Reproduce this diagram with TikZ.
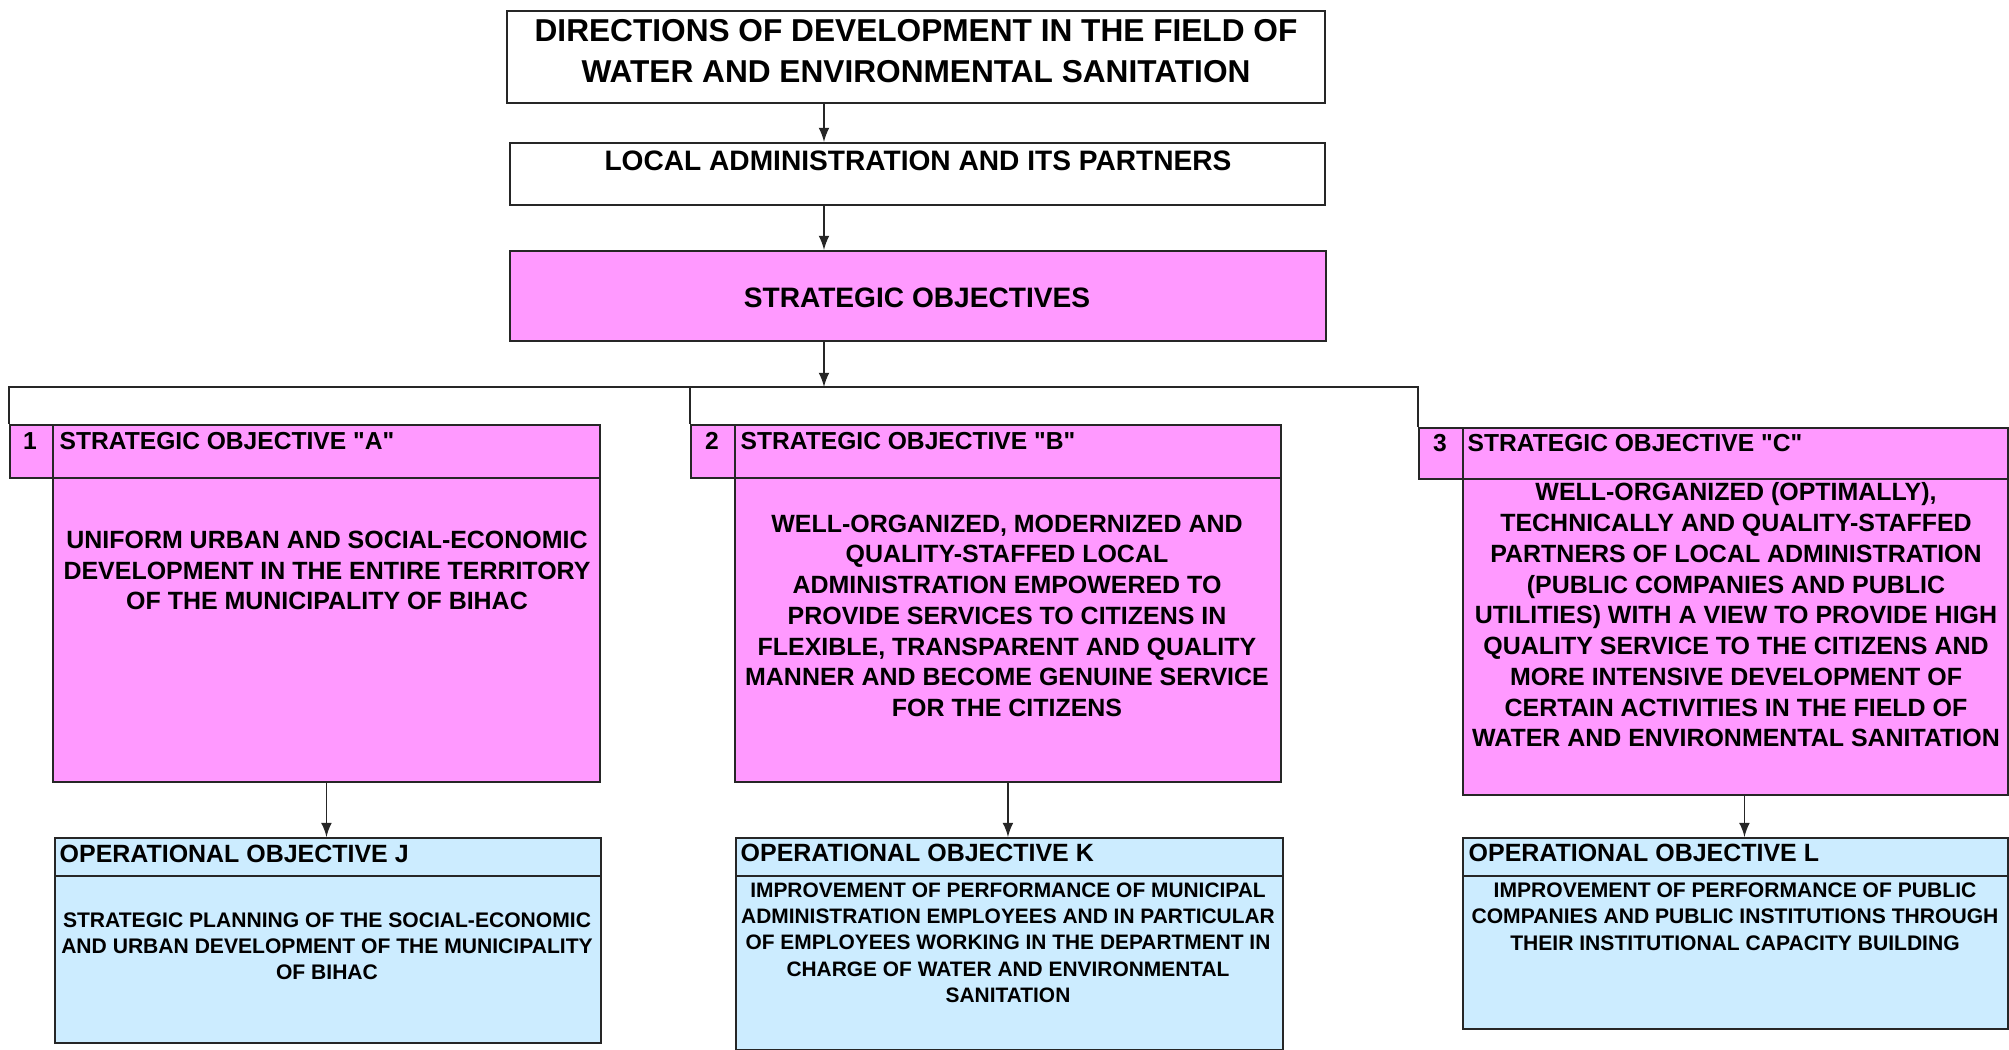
\documentclass[tikz,border=0pt]{standalone}
\usepackage{fontspec}
\setmainfont{Liberation Sans}
\usetikzlibrary{calc}
\definecolor{sopink}{HTML}{FF99FF}
\definecolor{opblue}{HTML}{CCECFF}
\begin{document}
\begin{tikzpicture}[x=0.1mm,y=-0.1mm,>=latex,
    box/.style={draw=black!85, line width=0.55pt, inner sep=0pt, anchor=north west},
    sobox/.style={box, fill=sopink},
    opbox/.style={box, fill=opblue},
    txt/.style={inner sep=0pt, anchor=north, align=center, font=\bfseries},
    htxt/.style={inner sep=0pt, anchor=north west, font=\fontsize{7}{8}\selectfont\bfseries},
    link/.style={line width=0.4pt, draw=black!85}]
    \useasboundingbox (0,0) rectangle (2009,1050);
    % top of the chart
    \node[box, minimum width=81.8mm, minimum height=9.2mm] (title) at (506,10) {};
    \node[txt, font=\fontsize{9}{11.7}\selectfont\bfseries] (titletxt) at (916,19) {DIRECTIONS OF DEVELOPMENT IN THE FIELD OF\\WATER AND ENVIRONMENTAL SANITATION};
    \node[box, minimum width=81.5mm, minimum height=6.2mm] (local) at (509,142) {};
    \node[txt, font=\fontsize{8}{9}\selectfont\bfseries] (localtxt) at (918,150) {LOCAL ADMINISTRATION AND ITS PARTNERS};
    \node[sobox, minimum width=81.6mm, minimum height=9mm] (strat) at (509,250) {};
    \node[txt, font=\fontsize{8}{9}\selectfont\bfseries] (strattxt) at (917,287) {STRATEGIC OBJECTIVES};
    \coordinate (bus) at (824,387);
    \draw[link, ->] (title.south -| bus) -- (local.north -| bus);
    \draw[link, ->] (local.south -| bus) -- (strat.north -| bus);
    \draw[link, ->] (strat.south -| bus) -- (bus);
    % strategic objectives
    \node[sobox, minimum width=4.3mm, minimum height=5.3mm] (numA) at (9,424) {};
    \node[sobox, minimum width=54.7mm, minimum height=5.3mm] (headA) at (52,424) {};
    \node[sobox, minimum width=54.7mm, minimum height=30.4mm] (bodyA) at (52,477) {};
    \node[sobox, minimum width=4.4mm, minimum height=5.3mm] (numB) at (690,424) {};
    \node[sobox, minimum width=54.6mm, minimum height=5.3mm] (headB) at (734,424) {};
    \node[sobox, minimum width=54.6mm, minimum height=30.4mm] (bodyB) at (734,477) {};
    \node[sobox, minimum width=4.4mm, minimum height=5.1mm] (numC) at (1418,427) {};
    \node[sobox, minimum width=54.5mm, minimum height=5.1mm] (headC) at (1462,427) {};
    \node[sobox, minimum width=54.5mm, minimum height=31.6mm] (bodyC) at (1462,478) {};
    \draw[link] (numA.north west) -- (numA.north west |- bus) -- (numC.north west |- bus) -- (numC.north west);
    \draw[link] (numB.north west |- bus) -- (numB.north west);
    \node[htxt, anchor=north] at (30,432) {1};
    \node[htxt] at (59,432) {STRATEGIC OBJECTIVE \textquotedbl A\textquotedbl};
    \node[htxt, anchor=north] at (712,432) {2};
    \node[htxt] at (740,432) {STRATEGIC OBJECTIVE \textquotedbl B\textquotedbl};
    \node[htxt, anchor=north] at (1440,434) {3};
    \node[htxt] at (1467,434) {STRATEGIC OBJECTIVE \textquotedbl C\textquotedbl};
    \node[txt, font=\fontsize{7.1}{8.8}\selectfont\bfseries] at (327,530) {UNIFORM URBAN AND SOCIAL-ECONOMIC\\DEVELOPMENT IN THE ENTIRE TERRITORY\\OF THE MUNICIPALITY OF BIHAC};
    \node[txt, font=\fontsize{7.1}{8.75}\selectfont\bfseries] at (1007,514) {WELL-ORGANIZED, MODERNIZED AND\\QUALITY-STAFFED LOCAL\\ADMINISTRATION EMPOWERED TO\\PROVIDE SERVICES TO CITIZENS IN\\FLEXIBLE, TRANSPARENT AND QUALITY\\MANNER AND BECOME GENUINE SERVICE\\FOR THE CITIZENS};
    \node[txt, font=\fontsize{7.1}{8.75}\selectfont\bfseries] at (1736,482) {WELL-ORGANIZED (OPTIMALLY),\\TECHNICALLY AND QUALITY-STAFFED\\PARTNERS OF LOCAL ADMINISTRATION\\(PUBLIC COMPANIES AND PUBLIC\\UTILITIES) WITH A VIEW TO PROVIDE HIGH\\QUALITY SERVICE TO THE CITIZENS AND\\MORE INTENSIVE DEVELOPMENT OF\\CERTAIN ACTIVITIES IN THE FIELD OF\\WATER AND ENVIRONMENTAL SANITATION};
    % operational objectives
    \node[opbox, minimum width=54.6mm, minimum height=3.8mm] (opJ) at (54,837) {};
    \node[opbox, minimum width=54.6mm, minimum height=16.7mm] (opJbody) at (54,875) {};
    \node[opbox, minimum width=54.7mm, minimum height=3.8mm] (opK) at (735,837) {};
    \node[opbox, minimum width=54.7mm, minimum height=17.4mm] (opKbody) at (735,875) {};
    \node[opbox, minimum width=54.5mm, minimum height=3.8mm] (opL) at (1462,837) {};
    \node[opbox, minimum width=54.5mm, minimum height=15.3mm] (opLbody) at (1462,875) {};
    \node[htxt, font=\fontsize{7.1}{8}\selectfont\bfseries] at (59,844) {OPERATIONAL OBJECTIVE J};
    \node[htxt, font=\fontsize{7.1}{8}\selectfont\bfseries] at (740,843) {OPERATIONAL OBJECTIVE K};
    \node[htxt, font=\fontsize{7.1}{8}\selectfont\bfseries] at (1468,843) {OPERATIONAL OBJECTIVE L};
    \node[txt, font=\fontsize{6}{7.4}\selectfont\bfseries] at (327,912) {STRATEGIC PLANNING OF THE SOCIAL-ECONOMIC\\AND URBAN DEVELOPMENT OF THE MUNICIPALITY\\OF BIHAC};
    \node[txt, font=\fontsize{5.95}{7.47}\selectfont\bfseries] at (1008,882) {IMPROVEMENT OF PERFORMANCE OF MUNICIPAL\\ADMINISTRATION EMPLOYEES AND IN PARTICULAR\\OF EMPLOYEES WORKING IN THE DEPARTMENT IN\\CHARGE OF WATER AND ENVIRONMENTAL\\SANITATION};
    \node[txt, font=\fontsize{6}{7.5}\selectfont\bfseries] at (1735,882) {IMPROVEMENT OF PERFORMANCE OF PUBLIC\\COMPANIES AND PUBLIC INSTITUTIONS THROUGH\\THEIR INSTITUTIONAL CAPACITY BUILDING};
    \draw[link, ->] (bodyA.south) -- (bodyA.south |- opJ.north);
    \draw[link, ->] (bodyB.south) -- (bodyB.south |- opK.north);
    \draw[link, ->] ($(bodyC.south)+(9,0)$) -- ($(opL.north)+(9,0)$);
\end{tikzpicture}
\end{document}
